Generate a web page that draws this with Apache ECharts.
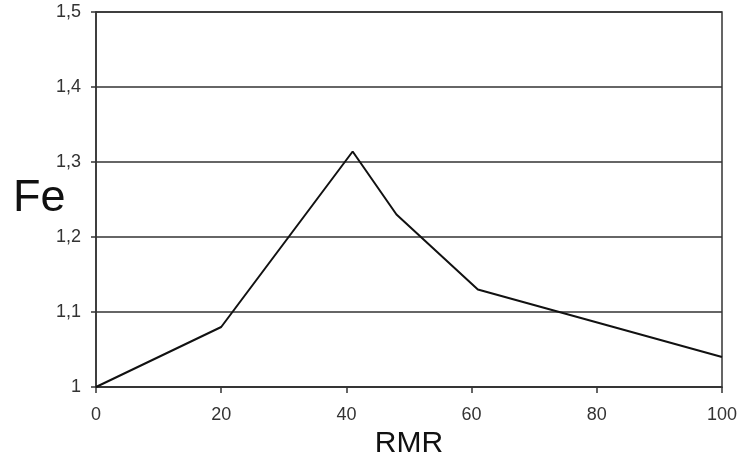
<!DOCTYPE html>
<html>
<head>
<meta charset="utf-8">
<script src="https://cdn.jsdelivr.net/npm/echarts@6/dist/echarts.min.js"></script>
<style>
  html, body { margin: 0; padding: 0; background: #fff; }
  #chart { width: 737px; height: 459px; }
</style>
</head>
<body>
<div id="chart"></div>
<script>
// RMR vs Fe measurements
const rmrValues = [0, 20, 41, 48, 61, 100];
const feValues = [1, 1.08, 1.314, 1.23, 1.13, 1.04];
const xTicks = [0, 20, 40, 60, 80, 100];
const yTicks = [1, 1.1, 1.2, 1.3, 1.4, 1.5];

const points = rmrValues.map((x, i) => [x, feValues[i]]);
const font = 'Liberation Sans, Arial, sans-serif';

const chart = echarts.init(document.getElementById('chart'), null, { renderer: 'canvas' });
chart.setOption({
  animation: false,
  backgroundColor: '#ffffff',
  grid: {
    left: 96, right: 15, top: 12, bottom: 72,
    outerBoundsMode: 'none', containLabel: false,
    show: true, borderColor: '#333', borderWidth: 1.5, backgroundColor: 'transparent'
  },
  // y-axis title, placed beside the axis labels
  graphic: [{
    type: 'text',
    left: 13,
    top: 176,
    style: { text: 'Fe', fontFamily: font, fontSize: 45, fill: '#111' }
  }],
  xAxis: {
    type: 'value',
    min: xTicks[0], max: xTicks[xTicks.length - 1], interval: 20,
    name: 'RMR', nameLocation: 'middle', nameGap: 35,
    nameTextStyle: { fontFamily: font, fontSize: 30, color: '#111' },
    axisLine: { show: true, lineStyle: { color: '#333', width: 1.5 } },
    axisTick: { show: true, length: 6, lineStyle: { color: '#333', width: 1.5 } },
    axisLabel: { fontFamily: font, fontSize: 18, color: '#333', margin: 19 },
    splitLine: { show: false }
  },
  yAxis: {
    type: 'value',
    min: yTicks[0], max: yTicks[yTicks.length - 1], interval: 0.1,
    axisLine: { show: true, lineStyle: { color: '#333', width: 1.5 } },
    axisTick: { show: true, length: 5, lineStyle: { color: '#333', width: 1.5 } },
    axisLabel: {
      fontFamily: font, fontSize: 18, color: '#333', margin: 15,
      formatter: v => (Math.round(v * 10) / 10).toString().replace('.', ',')
    },
    splitLine: { show: true, lineStyle: { color: '#333', width: 1.5 } }
  },
  series: [{
    type: 'line',
    data: points,
    showSymbol: false,
    symbol: 'none',
    lineStyle: { color: '#111', width: 2 },
    z: 5
  }]
});
</script>
</body>
</html>
